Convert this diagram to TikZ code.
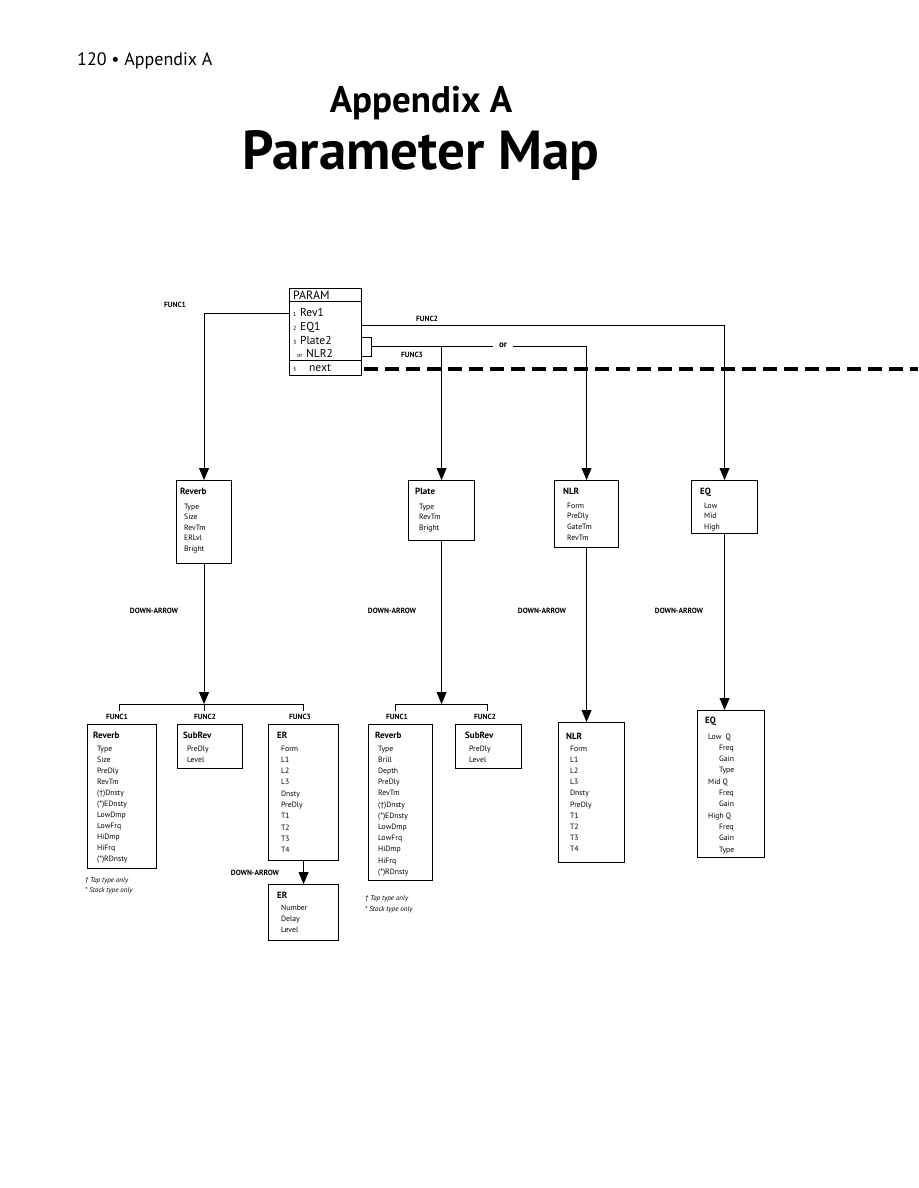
\documentclass[tikz,border=0pt]{standalone}
\usepackage{fontspec}
\setmainfont{PT Sans}
\usetikzlibrary{arrows.meta}
\tikzset{
  box/.style={draw, line width=1.1pt, inner sep=0pt, anchor=north west},
  ttl/.style={font=\fontsize{9}{10}\selectfont\bfseries, anchor=base west, inner sep=0pt},
  itm/.style={font=\fontsize{7.7}{8}\selectfont, anchor=base west, inner sep=0pt},
  fl/.style={font=\fontsize{7.5}{8}\selectfont\bfseries, anchor=base, inner sep=0pt},
  pitm/.style={font=\fontsize{11.5}{12}\selectfont, anchor=base west, inner sep=0pt},
  pnum/.style={font=\fontsize{6}{7}\selectfont, anchor=base west, inner sep=0pt},
  note/.style={font=\fontsize{7}{8}\selectfont\itshape, anchor=base west, inner sep=0pt},
  conn/.style={line width=0.8pt},
  arr/.style={conn, -{Triangle[width=10pt,length=12pt]}},
}
\begin{document}
\begin{tikzpicture}[x=1pt,y=-1pt]
\useasboundingbox (0,0) rectangle (918,1188);
% header
\node[font=\fontsize{18}{20}\selectfont, anchor=base west, inner sep=0pt] (pg) at (77,66) {120 \textbullet{} Appendix A};
\node[font=\fontsize{37}{40}\selectfont\bfseries, anchor=base, inner sep=0pt] (t1) at (421,113) {Appendix A};
\node[font=\fontsize{55}{60}\selectfont\bfseries, anchor=base, inner sep=0pt] (t2) at (421,169) {Parameter Map};

% PARAM box
\node[box, minimum width=72pt, minimum height=87pt] (param) at (289,288) {};
\draw[line width=0.9pt] (289,301) -- (361,301);
\draw[line width=0.9pt] (289,360) -- (361,360);
\node[font=\fontsize{12}{13}\selectfont, anchor=base west, inner sep=0pt] (ph) at (293,299) {PARAM};
\node[pnum] (n1) at (293,316) {1};
\node[pitm] (p1) at (300,316) {Rev1};
\node[pnum] (n2) at (293,330) {2};
\node[pitm] (p2) at (300,330) {EQ1};
\node[pnum] (n3) at (293,344) {3};
\node[pitm] (p3) at (300,344) {Plate2};
\node[pnum] (n4) at (297,357) {or};
\node[pitm] (p4) at (306,357) {NLR2};
\node[pnum] (n5) at (293,371) {5};
\node[pitm] (p5) at (309,371) {next};
% small bracket
\coordinate (bk1) at (361,337);
\coordinate (bk2) at (371,337);
\coordinate (bk3) at (371,356);
\coordinate (bk4) at (361,356);
\draw[conn] (bk1) -- (bk2) -- (bk3) -- (bk4);

% top boxes
\node[box, minimum width=55pt, minimum height=83pt] (rv) at (176,480) {};
\node[ttl] (rvt) at (180,494) {Reverb};
\foreach \t [count=\i from 0] in {Type,Size,RevTm,ERLvl,Bright}
  \node[itm] (rvi\i) at (184,509+10.5*\i) {\t};

\node[box, minimum width=66pt, minimum height=60pt] (pl) at (408,480) {};
\node[ttl] (plt) at (415,494) {Plate};
\foreach \t [count=\i from 0] in {Type,RevTm,Bright}
  \node[itm] (pli\i) at (419,509+10.5*\i) {\t};

\node[box, minimum width=64pt, minimum height=67pt] (nl) at (554,480) {};
\node[ttl] (nlt) at (563,494) {NLR};
\foreach \t [count=\i from 0] in {Form,PreDly,GateTm,RevTm}
  \node[itm] (nli\i) at (567,508+10.7*\i) {\t};

\node[box, minimum width=66pt, minimum height=53pt] (eq) at (691,480) {};
\node[ttl] (eqt) at (700,494) {EQ};
\foreach \t [count=\i from 0] in {Low,Mid,High}
  \node[itm] (eqi\i) at (704,508+10.7*\i) {\t};

% connectors from PARAM
\draw[arr] (param.west |- 0,313) -| (rv.north);
\node[fl] (f1l) at (175,307) {FUNC1};
\draw[arr] (param.east |- 0,325) -| (eq.north);
\node[fl] (f2l) at (427,321) {FUNC2};
\coordinate (orc) at (371,346);
\draw[conn] (orc) -- (pl.north |- orc);
\draw[arr] (pl.north |- orc) -| (nl.north);
\draw[arr] (pl.north |- orc) -- (pl.north);
\node[fl] (f3l) at (412,357) {FUNC3};
\node[font=\fontsize{9}{10}\selectfont\bfseries, fill=white, inner xsep=6pt, inner ysep=1pt] (orl) at (503,345) {or};
% dashed line
\coordinate (d1) at (364,369);
\coordinate (d2) at (918,369);
\draw[line width=3.2pt, dash pattern=on 14pt off 7pt] (d1) -- (d2);

% DOWN-ARROW labels
\node[fl] (da1) at (154,613) {DOWN-ARROW};
\node[fl] (da2) at (392,613) {DOWN-ARROW};
\node[fl] (da3) at (542,613) {DOWN-ARROW};
\node[fl] (da4) at (679,613) {DOWN-ARROW};

% left group bracket
\coordinate (lb) at (200,704);
\draw[arr] (rv.south) -- (rv.south |- lb);
\draw[conn] (119,711) -- (119,704) -- (303,704) -- (303,711);
\draw[conn] (rv.south |- lb) -- ([yshift=-7pt]rv.south |- lb);
\node[fl] (lf1) at (117,719) {FUNC1};
\node[fl] (lf2) at (205,719) {FUNC2};
\node[fl] (lf3) at (300,719) {FUNC3};

\node[box, minimum width=69pt, minimum height=144pt] (rv2) at (87,724) {};
\node[ttl] (rv2t) at (93,738) {Reverb};
\foreach \t [count=\i from 0] in {Type,Size,PreDly,RevTm,(†)Dnsty,(*)EDnsty,LowDmp,LowFrq,HiDmp,HiFrq,(*)RDnsty}
  \node[itm] (rv2i\i) at (97,751+11*\i) {\t};
\node[note] (fn1) at (85,882) {† Tap type only};
\node[note] (fn2) at (85,892) {* Stack type only};

\node[box, minimum width=65pt, minimum height=44pt] (sr) at (177,724) {};
\node[ttl] (srt) at (183,738) {SubRev};
\foreach \t [count=\i from 0] in {PreDly,Level}
  \node[itm] (sri\i) at (187,751+11*\i) {\t};

\node[box, minimum width=70pt, minimum height=136pt] (er) at (268,724) {};
\node[ttl] (ert) at (277,738) {ER};
\foreach \t [count=\i from 0] in {Form,L1,L2,L3,Dnsty,PreDly,T1,T2,T3,T4}
  \node[itm] (eri\i) at (281,751+11.3*\i) {\t};

\node[box, minimum width=70pt, minimum height=56pt] (er2) at (268,884) {};
\draw[arr] (er.south) -- (er2.north);
\node[fl] (da5) at (255,875) {DOWN-ARROW};
\node[ttl] (er2t) at (277,898) {ER};
\foreach \t [count=\i from 0] in {Number,Delay,Level}
  \node[itm] (er2i\i) at (281,910+11*\i) {\t};

% middle group
\coordinate (mb) at (441,704);
\draw[arr] (pl.south) -- (pl.south |- mb);
\draw[conn] (395,711) -- (395,704) -- (487,704) -- (487,711);
\node[fl] (mf1) at (397,719) {FUNC1};
\node[fl] (mf2) at (485,719) {FUNC2};

\node[box, minimum width=64pt, minimum height=156pt] (rv3) at (368,724) {};
\node[ttl] (rv3t) at (375,738) {Reverb};
\foreach \t [count=\i from 0] in {Type,Brill,Depth,PreDly,RevTm,(†)Dnsty,(*)EDnsty,LowDmp,LowFrq,HiDmp,HiFrq,(*)RDnsty}
  \node[itm] (rv3i\i) at (378,751+11.2*\i) {\t};
\node[note] (fn3) at (365,900) {† Tap type only};
\node[note] (fn4) at (365,911) {* Stack type only};

\node[box, minimum width=66pt, minimum height=44pt] (sr2) at (455,724) {};
\node[ttl] (sr2t) at (465,738) {SubRev};
\foreach \t [count=\i from 0] in {PreDly,Level}
  \node[itm] (sr2i\i) at (469,751+11*\i) {\t};

% NLR bottom
\node[box, minimum width=66pt, minimum height=140pt] (nl2) at (558,722) {};
\draw[arr] (nl.south) -- (nl.south |- nl2.north);
\node[ttl] (nl2t) at (566,739) {NLR};
\foreach \t [count=\i from 0] in {Form,L1,L2,L3,Dnsty,PreDly,T1,T2,T3,T4}
  \node[itm] (nl2i\i) at (570,751+11.2*\i) {\t};

% EQ bottom
\node[box, minimum width=67pt, minimum height=147pt] (eq2) at (697,710) {};
\draw[arr] (eq.south) -- (eq.south |- eq2.north);
\node[ttl] (eq2t) at (705,723) {EQ};
\foreach \t/\dx [count=\i from 0] in {Low\ \ Q/0,Freq/11,Gain/11,Type/11,Mid Q/0,Freq/11,Gain/11,High Q/0,Freq/11,Gain/11,Type/11}
  \node[itm] (eq2i\i) at (708+\dx,739+11.3*\i) {\t};
\end{tikzpicture}
\end{document}
